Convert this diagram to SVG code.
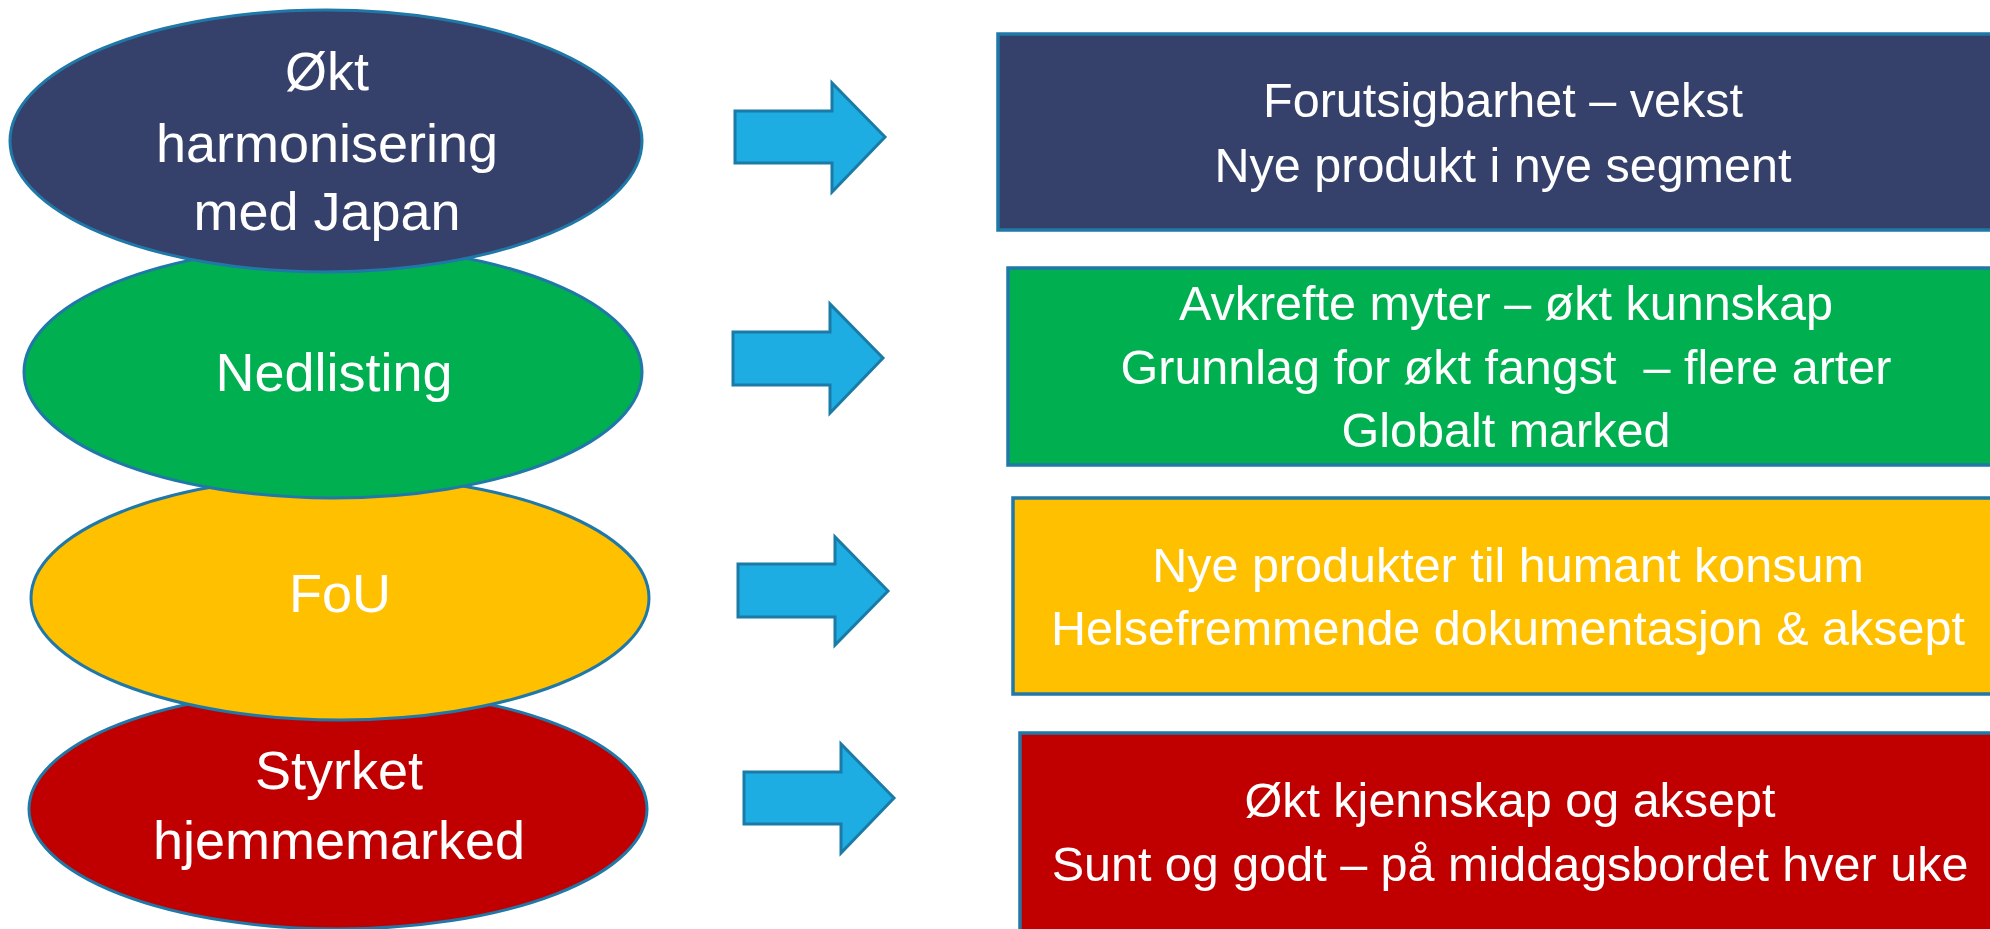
<svg xmlns="http://www.w3.org/2000/svg" width="1990" height="929" viewBox="0 0 1990 929">
<style>
.ell{stroke:#1F78A8;stroke-width:3}
.box{stroke:#1F78A8;stroke-width:3.5}
.arr{fill:#1EADE3;stroke:#1A7BA6;stroke-width:3;stroke-linejoin:miter}
.lt{font-family:"Liberation Sans",Arial,sans-serif;font-size:54px;fill:#ffffff;text-anchor:middle}
.rt{font-family:"Liberation Sans",Arial,sans-serif;font-size:48.5px;fill:#ffffff;text-anchor:middle}
</style>
<rect width="1990" height="929" fill="#ffffff"/>
<g id="node-styrket">
<ellipse class="ell" cx="338" cy="809" rx="309" ry="120" fill="#C00000"/>
<text class="lt" x="339" y="789">Styrket</text>
<text class="lt" x="339" y="859">hjemmemarked</text>
</g>
<g id="node-fou">
<ellipse class="ell" cx="340" cy="598" rx="309" ry="122" fill="#FFC000"/>
<text class="lt" x="340" y="612">FoU</text>
</g>
<g id="node-nedlisting">
<ellipse class="ell" cx="333" cy="372" rx="309" ry="126" fill="#00B050"/>
<text class="lt" x="334" y="391">Nedlisting</text>
</g>
<g id="node-harmonisering">
<ellipse class="ell" cx="326" cy="141" rx="316" ry="131" fill="#35416B"/>
<text class="lt" x="327" y="90">Økt</text>
<text class="lt" x="327" y="162">harmonisering</text>
<text class="lt" x="327" y="230">med Japan</text>
</g>
<g id="box-1">
<rect class="box" x="998" y="34" width="1012" height="196" fill="#35416B"/>
<text class="rt" x="1503" y="117">Forutsigbarhet – vekst</text>
<text class="rt" x="1503" y="182">Nye produkt i nye segment</text>
</g>
<g id="box-2">
<rect class="box" x="1008" y="268" width="1002" height="197" fill="#00B050"/>
<text class="rt" x="1506" y="320">Avkrefte myter – økt kunnskap</text>
<text class="rt" x="1506" y="384" xml:space="preserve" style="white-space:pre">Grunnlag for økt fangst  – flere arter</text>
<text class="rt" x="1506" y="447">Globalt marked</text>
</g>
<g id="box-3">
<rect class="box" x="1013" y="498" width="997" height="196" fill="#FFC000"/>
<text class="rt" x="1508" y="582">Nye produkter til humant konsum</text>
<text class="rt" x="1508" y="645">Helsefremmende dokumentasjon &amp; aksept</text>
</g>
<g id="box-4">
<rect class="box" x="1020" y="733" width="990" height="210" fill="#C00000"/>
<text class="rt" x="1510" y="817">Økt kjennskap og aksept</text>
<text class="rt" x="1510" y="881">Sunt og godt – på middagsbordet hver uke</text>
</g>
<g id="connectors">
<path class="arr" d="M735,111 L832,111 L832,83 L885,137 L832,192 L832,163 L735,163 Z"/>
<path class="arr" d="M733,332 L830,332 L830,304 L883,358 L830,413 L830,385 L733,385 Z"/>
<path class="arr" d="M738,564 L835,564 L835,537 L888,591 L835,645 L835,617 L738,617 Z"/>
<path class="arr" d="M744,772 L841,772 L841,744 L894,798 L841,853 L841,824 L744,824 Z"/>
</g>
</svg>
